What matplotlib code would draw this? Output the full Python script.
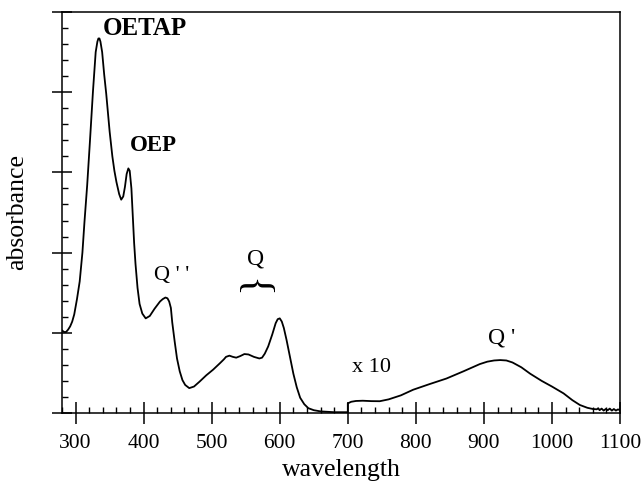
import numpy as np
import matplotlib
matplotlib.use("Agg")
import matplotlib.pyplot as plt
from matplotlib.ticker import MultipleLocator, NullFormatter

plt.rcParams['font.family'] = ['Liberation Serif', 'DejaVu Serif']

# main spectrum (280-700 nm)
wl_main = [280, 283, 286, 289, 292, 295, 298, 302, 306, 310, 313, 317, 321, 325.5, 329.5, 332,
           333.5, 335, 336.5, 339, 342, 345, 350, 354, 357, 360, 364, 367, 370, 372.5, 375,
           377.5, 379.5, 382, 384, 386, 388, 391, 394, 398, 403, 409, 416, 424, 428, 432, 435,
           437.5, 440, 442, 445.6, 449, 453, 457, 461, 467, 474, 482, 492, 502, 512, 518, 521,
           526, 531, 536, 542, 548, 554, 562, 570, 574, 578, 583, 589, 594, 597, 600, 603, 606,
           610, 615, 620, 625, 630, 636, 642, 650, 660, 680, 700]
abs_main = [1.03, 1.01, 1.01, 1.04, 1.08, 1.14, 1.23, 1.42, 1.64, 2.0, 2.38, 2.84, 3.38, 4.01,
            4.50, 4.63, 4.67, 4.67, 4.63, 4.50, 4.22, 3.98, 3.51, 3.20, 3.02, 2.88, 2.73, 2.66,
            2.70, 2.82, 2.98, 3.05, 3.02, 2.80, 2.45, 2.12, 1.86, 1.56, 1.36, 1.24, 1.18, 1.21,
            1.30, 1.39, 1.42, 1.44, 1.43, 1.39, 1.31, 1.13, 0.89, 0.68, 0.52, 0.41, 0.35, 0.31,
            0.33, 0.39, 0.47, 0.54, 0.62, 0.67, 0.70, 0.715, 0.70, 0.69, 0.71, 0.735, 0.73, 0.70,
            0.68, 0.69, 0.74, 0.83, 0.98, 1.12, 1.17, 1.18, 1.14, 1.06, 0.91, 0.70, 0.49, 0.32,
            0.19, 0.11, 0.06, 0.035, 0.02, 0.01, 0.01]

# near-IR part, scaled x 10
wl_x10 = [700, 705, 712, 722, 735, 747, 760, 778, 796, 820, 845, 870, 894, 905, 915, 924, 933,
          942, 955, 968, 985, 1000, 1017, 1030, 1041, 1052, 1060, 1066, 1068, 1070, 1073, 1076,
          1079, 1082, 1085, 1088, 1091, 1094, 1097, 1100]
abs_x10 = [0.12, 0.14, 0.15, 0.153, 0.148, 0.147, 0.17, 0.22, 0.29, 0.36, 0.43, 0.52, 0.61,
           0.64, 0.655, 0.66, 0.655, 0.63, 0.57, 0.49, 0.40, 0.33, 0.245, 0.16, 0.10, 0.065,
           0.05, 0.046, 0.06, 0.035, 0.055, 0.03, 0.05, 0.035, 0.055, 0.03, 0.05, 0.03, 0.045,
           0.035]

fig = plt.figure(figsize=(6.43, 4.83), dpi=100)
ax = fig.add_axes([62/643, 1-413/483, 558/643, 401/483])

ax.plot(wl_main + wl_x10, abs_main + abs_x10, color='black', lw=1.3,
        solid_joinstyle='round')

ax.set_xlim(280, 1100)
ax.set_ylim(0, 5)
ax.xaxis.set_major_locator(MultipleLocator(100))
ax.xaxis.set_minor_locator(MultipleLocator(20))
ax.yaxis.set_major_locator(MultipleLocator(1))
ax.yaxis.set_minor_locator(MultipleLocator(0.2))
ax.yaxis.set_major_formatter(NullFormatter())

for s in ax.spines.values():
    s.set_linewidth(1.1)
ax.tick_params(axis='x', which='major', direction='inout', length=16.5, width=1.1,
               labelsize=15.5, pad=7)
ax.tick_params(axis='x', which='minor', direction='in', length=4.3, width=1.0)
ax.tick_params(axis='y', which='major', direction='inout', length=14.4, width=1.1)
ax.tick_params(axis='y', which='minor', direction='in', length=4.3, width=1.0)

ax.set_xlabel('wavelength', fontsize=18.5, labelpad=4)
ax.set_ylabel('absorbance', fontsize=18.5, labelpad=14)

ax.text(402, 4.79, 'OETAP', fontsize=18, fontweight='bold', ha='center', va='center')
ax.text(414, 3.33, 'OEP', fontsize=16.5, fontweight='bold', ha='center', va='center')
ax.text(441, 1.71, "Q ' '", fontsize=16, ha='center', va='center')
ax.text(565, 1.92, 'Q', fontsize=17, ha='center', va='center')
ax.text(565, 1.63, '}', fontsize=30, rotation=90, ha='center', va='center')
ax.text(735, 0.57, 'x 10', fontsize=16, ha='center', va='center')
ax.text(926, 0.94, "Q '", fontsize=17, ha='center', va='center')

fig.savefig('out.png', dpi=100)
